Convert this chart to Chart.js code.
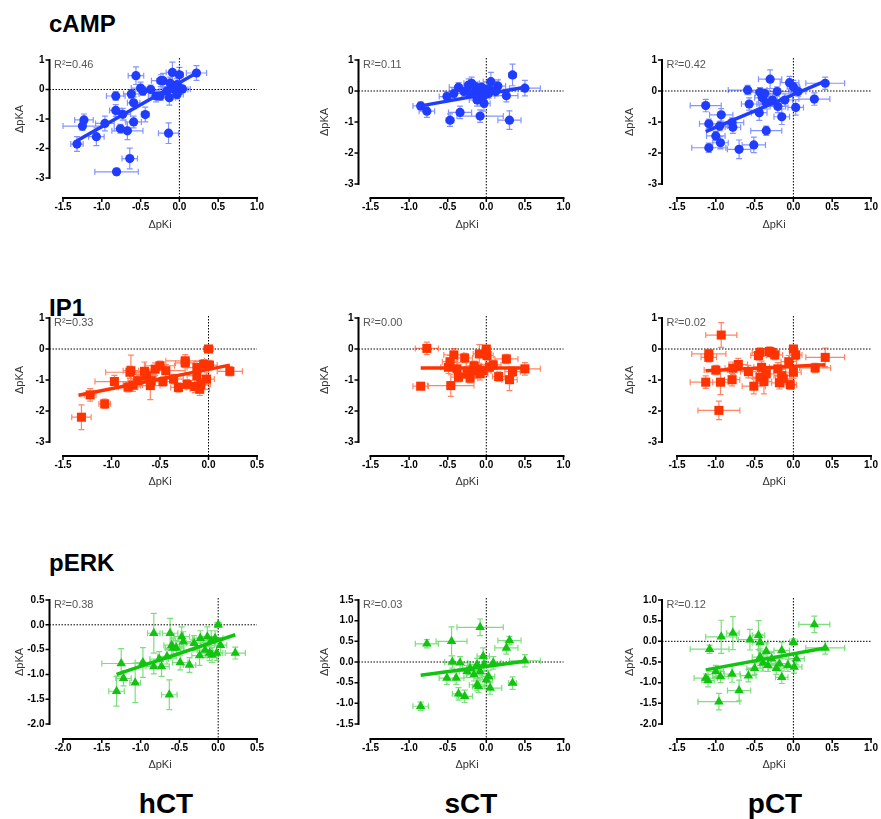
<!DOCTYPE html>
<html>
<head>
<meta charset="utf-8">
<script src="https://cdn.jsdelivr.net/npm/chart.js@4.4.0/dist/chart.umd.min.js"></script>
<style>
  body { margin: 0; background: #fff; width: 881px; height: 819px; position: relative; overflow: hidden;
         font-family: "Liberation Sans", Arial, sans-serif; }
  canvas { position: absolute; }
  .lab { position: absolute; font-weight: bold; color: #000; line-height: 1; white-space: nowrap; }
  .col { width: 200px; text-align: center; font-size: 28px; top: 790px; }
</style>
</head>
<body>
<div class="lab" style="left:49px;top:12px;font-size:24px">cAMP</div>
<div class="lab" style="left:49px;top:296px;font-size:24px">IP1</div>
<div class="lab" style="left:49px;top:551px;font-size:24px">pERK</div>
<div class="lab col" style="left:66px">hCT</div>
<div class="lab col" style="left:371px">sCT</div>
<div class="lab col" style="left:675px">pCT</div>

<script>
// each row: [ΔpKi, ΔpKA, ΔpKi error, ΔpKA error]
const campHct = [
  [-1.32,-1.85,0.08,0.25],[-1.23,-1.03,0.12,0.2],[-1.25,-1.24,0.25,0.15],[-1.07,-1.6,0.1,0.3],
  [-0.96,-1.15,0.12,0.25],[-0.82,-0.22,0.12,0.15],[-0.82,-0.71,0.08,0.2],[-0.76,-1.33,0.08,0.15],
  [-0.73,-0.84,0.1,0.2],[-0.81,-2.79,0.28,0.12],[-0.64,-2.34,0.1,0.35],[-0.67,-1.4,0.2,0.3],
  [-0.59,-1.1,0.1,0.2],[-0.56,0.47,0.1,0.3],[-0.62,-0.15,0.1,0.15],[-0.59,-0.45,0.08,0.2],
  [-0.5,0.05,0.12,0.2],[-0.47,-0.05,0.1,0.15],[-0.44,-0.85,0.05,0.25],[-0.37,0.0,0.15,0.15],
  [-0.3,-0.22,0.1,0.2],[-0.24,0.3,0.12,0.2],[-0.21,0.3,0.08,0.25],[-0.25,-0.22,0.1,0.15],
  [-0.16,-0.05,0.1,0.15],[-0.13,-0.28,0.08,0.25],[-0.09,0.58,0.08,0.35],[-0.12,0.22,0.1,0.2],
  [-0.08,0.05,0.08,0.15],[-0.06,0.0,0.1,0.12],[-0.03,0.17,0.06,0.2],[0.0,0.5,0.05,0.25],
  [0.01,0.0,0.1,0.1],[-0.03,-0.17,0.08,0.15],[-0.14,-1.48,0.13,0.35],[0.22,0.56,0.13,0.25],
  [0.04,0.02,0.1,0.1]
];
const campHctFit = [[-1.32,-1.74],[0.22,0.56]];

const campSct = [
  [-0.85,-0.48,0.1,0.12],[-0.77,-0.65,0.1,0.2],[-0.47,-0.94,0.05,0.2],[-0.34,-0.69,0.15,0.2],
  [-0.08,-0.81,0.3,0.2],[0.3,-0.94,0.15,0.3],[0.34,0.52,0.05,0.35],[0.5,0.09,0.2,0.25],
  [0.26,-0.15,0.15,0.2],[0.06,0.3,0.1,0.3],[0.15,0.16,0.1,0.2],[-0.03,-0.4,0.08,0.25],
  [-0.12,-0.29,0.1,0.2],[-0.23,0.19,0.15,0.2],[-0.19,0.25,0.1,0.2],[-0.14,0.14,0.1,0.15],
  [-0.1,0.03,0.1,0.15],[-0.06,0.12,0.08,0.15],[0.0,0.05,0.1,0.15],[0.03,-0.08,0.1,0.15],
  [-0.36,0.12,0.12,0.15],[-0.42,-0.08,0.12,0.15],[-0.51,-0.18,0.1,0.15],[-0.29,-0.02,0.1,0.15],
  [-0.21,-0.08,0.1,0.15],[-0.12,-0.05,0.1,0.15],[-0.04,-0.18,0.08,0.2],[0.05,0.03,0.1,0.15],
  [0.12,-0.02,0.1,0.15]
];
const campSctFit = [[-0.85,-0.48],[0.5,0.12]];

const campPct = [
  [-1.13,-0.47,0.2,0.2],[-1.09,-1.06,0.12,0.15],[-1.09,-1.83,0.22,0.15],[-1.0,-1.45,0.12,0.15],
  [-0.94,-1.67,0.1,0.2],[-0.93,-0.77,0.15,0.2],[-0.95,-1.13,0.1,0.15],[-0.79,-1.02,0.15,0.15],
  [-0.78,-1.17,0.1,0.2],[-0.7,-1.88,0.15,0.3],[-0.51,-1.74,0.15,0.25],[-0.59,0.03,0.25,0.15],
  [-0.57,-0.42,0.1,0.2],[-0.44,-0.7,0.1,0.25],[-0.43,-0.04,0.12,0.15],[-0.4,-0.22,0.1,0.2],
  [-0.37,-0.08,0.12,0.15],[-0.35,-0.38,0.1,0.2],[-0.3,0.38,0.15,0.3],[-0.35,-1.28,0.2,0.15],
  [-0.27,-0.29,0.1,0.2],[-0.21,-0.02,0.15,0.15],[-0.2,-0.5,0.1,0.2],[-0.15,-0.83,0.1,0.25],
  [-0.11,-0.29,0.1,0.2],[-0.05,0.27,0.12,0.2],[0.0,0.14,0.08,0.2],[0.03,-0.53,0.1,0.25],
  [0.06,-0.02,0.1,0.15],[0.27,-0.26,0.2,0.2],[0.41,0.25,0.25,0.2]
];
const campPctFit = [[-1.13,-1.31],[0.41,0.32]];

const ip1Hct = [
  [-1.31,-2.2,0.1,0.4],[-1.22,-1.48,0.06,0.2],[-1.07,-1.77,0.06,0.15],[-0.97,-1.05,0.2,0.2],
  [-0.83,-1.23,0.1,0.15],[-0.81,-0.75,0.25,0.2],[-0.8,-0.7,0.08,0.5],[-0.78,-1.17,0.1,0.2],
  [-0.73,-1.02,0.1,0.2],[-0.66,-0.72,0.12,0.3],[-0.64,-0.86,0.1,0.2],[-0.6,-1.18,0.1,0.45],
  [-0.59,-1.02,0.1,0.2],[-0.55,-0.65,0.1,0.2],[-0.5,-0.54,0.15,0.15],[-0.47,-1.05,0.1,0.15],
  [-0.44,-0.7,0.2,0.2],[-0.36,-0.97,0.1,0.15],[-0.31,-1.24,0.08,0.15],[-0.24,-0.38,0.2,0.2],
  [-0.24,-0.45,0.1,0.15],[-0.22,-1.14,0.1,0.15],[-0.14,-1.21,0.1,0.2],[-0.12,-0.6,0.1,0.2],
  [-0.09,-1.3,0.1,0.2],[-0.08,-1.14,0.1,0.2],[-0.05,-0.49,0.1,0.15],[-0.02,-0.97,0.08,0.2],
  [0.0,0.0,0.05,0.08],[0.01,-0.52,0.08,0.15],[0.22,-0.72,0.13,0.15],[-0.12,-0.86,0.1,0.2]
];
const ip1HctFit = [[-1.34,-1.49],[0.22,-0.52]];

const ip1Sct = [
  [-0.85,-1.2,0.1,0.08],[-0.77,0.02,0.15,0.2],[-0.46,-1.18,0.3,0.35],[-0.42,-0.19,0.13,0.2],
  [-0.47,-0.41,0.1,0.2],[-0.49,-0.59,0.1,0.2],[-0.38,-0.64,0.1,0.2],[-0.36,-0.91,0.1,0.15],
  [-0.28,-0.29,0.1,0.15],[-0.25,-0.8,0.1,0.15],[-0.21,-0.94,0.1,0.15],[-0.16,-0.54,0.1,0.15],
  [-0.12,-0.64,0.1,0.2],[-0.09,-0.16,0.08,0.3],[-0.08,-0.8,0.1,0.2],[-0.04,-0.7,0.1,0.2],
  [0.0,0.0,0.05,0.1],[0.01,-0.21,0.08,0.15],[0.04,-0.59,0.1,0.15],[0.09,-0.51,0.1,0.15],
  [0.16,-0.89,0.08,0.15],[0.26,-0.32,0.15,0.15],[0.3,-0.99,0.1,0.35],[0.34,-0.73,0.1,0.15],
  [0.5,-0.64,0.2,0.2],[-0.14,-0.7,0.1,0.2]
];
const ip1SctFit = [[-0.85,-0.61],[0.5,-0.61]];

const ip1Pct = [
  [-0.93,0.45,0.2,0.4],[-1.09,-0.16,0.22,0.15],[-1.09,-0.27,0.1,0.15],[-1.13,-1.07,0.2,0.2],
  [-1.0,-0.68,0.15,0.15],[-0.94,-1.07,0.1,0.4],[-0.96,-1.98,0.27,0.3],[-0.79,-0.99,0.1,0.2],
  [-0.78,-0.62,0.1,0.2],[-0.71,-0.5,0.12,0.2],[-0.58,-0.73,0.1,0.2],[-0.51,-1.2,0.15,0.25],
  [-0.45,-0.21,0.1,0.15],[-0.43,-0.11,0.1,0.15],[-0.43,-0.91,0.1,0.2],[-0.41,-0.59,0.1,0.2],
  [-0.38,-1.05,0.1,0.4],[-0.35,-0.8,0.1,0.2],[-0.31,-0.08,0.1,0.15],[-0.28,-0.11,0.1,0.15],
  [-0.24,-0.19,0.1,0.15],[-0.2,-0.64,0.1,0.2],[-0.18,-1.09,0.1,0.2],[-0.15,-0.86,0.1,0.2],
  [-0.13,-0.96,0.1,0.2],[-0.06,-0.41,0.1,0.2],[-0.04,-1.15,0.08,0.15],[0.0,0.0,0.05,0.1],
  [0.0,-0.75,0.1,0.2],[0.03,-0.19,0.08,0.15],[0.28,-0.61,0.2,0.15],[0.41,-0.27,0.25,0.3]
];
const ip1PctFit = [[-1.13,-0.7],[0.41,-0.51]];

const perkHct = [
  [-1.31,-1.34,0.1,0.3],[-1.25,-0.78,0.25,0.3],[-1.22,-1.08,0.1,0.15],[-1.07,-1.17,0.07,0.4],
  [-0.97,-0.76,0.1,0.3],[-0.83,-0.84,0.1,0.15],[-0.83,-0.17,0.08,0.4],[-0.76,-0.69,0.12,0.15],
  [-0.73,-0.84,0.1,0.2],[-0.66,-0.64,0.12,0.15],[-0.63,-1.41,0.1,0.3],[-0.62,-0.17,0.1,0.3],
  [-0.6,-0.41,0.1,0.2],[-0.58,-0.47,0.1,0.2],[-0.54,-0.47,0.1,0.15],[-0.49,-0.76,0.1,0.15],
  [-0.47,-0.24,0.1,0.2],[-0.45,-0.34,0.1,0.2],[-0.37,-0.81,0.08,0.15],[-0.31,-0.37,0.1,0.15],
  [-0.24,-0.62,0.1,0.2],[-0.23,-0.27,0.1,0.15],[-0.17,-0.51,0.1,0.15],[-0.14,-0.24,0.1,0.2],
  [-0.11,-0.57,0.1,0.15],[-0.09,-0.32,0.1,0.2],[-0.08,-0.61,0.08,0.15],[-0.04,-0.27,0.1,0.15],
  [-0.02,-0.57,0.08,0.15],[0.0,0.0,0.04,0.05],[0.03,-0.41,0.08,0.15],[0.22,-0.57,0.13,0.12]
];
const perkHctFit = [[-1.31,-1.0],[0.22,-0.2]];

const perkSct = [
  [-0.85,-1.07,0.1,0.1],[-0.77,0.44,0.15,0.1],[-0.45,0.5,0.2,0.35],[-0.08,0.84,0.3,0.2],
  [0.3,0.52,0.15,0.1],[0.26,0.34,0.15,0.15],[0.34,-0.51,0.05,0.15],[0.5,0.03,0.2,0.15],
  [-0.36,-0.77,0.08,0.15],[-0.28,-0.83,0.1,0.15],[-0.51,-0.39,0.1,0.15],[-0.39,-0.39,0.1,0.15],
  [-0.44,0.0,0.1,0.15],[-0.34,-0.02,0.1,0.15],[-0.21,-0.15,0.1,0.15],[-0.16,-0.31,0.1,0.15],
  [-0.12,-0.55,0.1,0.15],[-0.1,-0.59,0.08,0.15],[-0.08,-0.23,0.1,0.15],[-0.04,0.14,0.08,0.2],
  [-0.03,-0.06,0.1,0.15],[0.0,-0.43,0.08,0.15],[0.03,-0.35,0.08,0.15],[0.05,-0.63,0.15,0.15],
  [0.09,-0.02,0.1,0.15],[-0.12,-0.06,0.1,0.15],[-0.25,-0.23,0.1,0.15]
];
const perkSctFit = [[-0.85,-0.32],[0.5,0.02]];

const perkPct = [
  [-1.13,-0.89,0.15,0.1],[-1.1,-0.95,0.08,0.15],[-1.08,-0.19,0.25,0.1],[-1.0,-0.73,0.1,0.15],
  [-0.93,0.11,0.2,0.4],[-0.94,-0.85,0.1,0.15],[-0.96,-1.46,0.27,0.2],[-0.79,-0.79,0.1,0.2],
  [-0.78,0.2,0.08,0.4],[-0.7,-1.19,0.15,0.25],[-0.58,-0.83,0.1,0.15],[-0.56,0.04,0.15,0.25],
  [-0.45,0.15,0.08,0.35],[-0.43,-0.03,0.1,0.2],[-0.43,-0.38,0.1,0.2],[-0.5,-0.65,0.1,0.15],
  [-0.39,-0.52,0.1,0.2],[-0.35,-0.24,0.1,0.2],[-0.33,-0.58,0.1,0.15],[-0.28,-0.42,0.1,0.15],
  [-0.22,-0.65,0.1,0.15],[-0.18,-0.54,0.1,0.15],[-0.15,-0.22,0.1,0.2],[-0.15,-0.87,0.08,0.15],
  [-0.07,-0.58,0.1,0.15],[0.0,-0.02,0.05,0.08],[0.01,-0.62,0.1,0.15],[0.04,-0.42,0.1,0.15],
  [0.27,0.41,0.2,0.2],[0.41,-0.16,0.25,0.15]
];
const perkPctFit = [[-1.13,-0.69],[0.41,-0.16]];

// axis ticks
const xTicksWide = [-1.5, -1.0, -0.5, 0.0, 0.5, 1.0];
const xTicksIp1Hct = [-1.5, -1.0, -0.5, 0.0, 0.5];
const xTicksPerkHct = [-2.0, -1.5, -1.0, -0.5, 0.0, 0.5];
const yTicksWide = [-3, -2, -1, 0, 1];
const yTicksPerkHct = [-2.0, -1.5, -1.0, -0.5, 0.0, 0.5];
const yTicksPerkSct = [-1.5, -1.0, -0.5, 0.0, 0.5, 1.0, 1.5];
const yTicksPerkPct = [-2.0, -1.5, -1.0, -0.5, 0.0, 0.5, 1.0];

const rSquared = ['0.46', '0.11', '0.42', '0.33', '0.00', '0.02', '0.38', '0.03', '0.12'];

const FONT = '"Liberation Sans", Arial, sans-serif';
const TITLE_SIZE = 11;
const HALF_LINE = TITLE_SIZE * 1.2 / 2;

const looks = {
  camp: { color: '#1f3cff', err: 'rgba(31,60,255,0.55)', point: 'circle', radius: 4.6 },
  ip1:  { color: '#ff3300', err: 'rgba(255,51,0,0.6)', point: 'rect', radius: 6.4 },
  perk: { color: '#10c410', err: 'rgba(16,196,16,0.55)', point: 'triangle', radius: 5.5 }
};

// page boxes for the grid of plots
const cols = [
  { cx: 0,   cw: 300, left: 63,    right: 257,   yline: 49.5,  titleX: 20 },
  { cx: 300, cw: 300, left: 370.5, right: 563.5, yline: 358.5, titleX: 325 },
  { cx: 600, cw: 281, left: 677,   right: 871,   yline: 662,   titleX: 630 }
];
const rows = [
  { cy: 40,  ch: 200, top: 60,  bottom: 184, xline: 198, titleY: 225 },
  { cy: 300, ch: 200, top: 318, bottom: 442, xline: 456, titleY: 482 },
  { cy: 580, ch: 200, top: 600, bottom: 724, xline: 739, titleY: 765 }
];

const panels = [
  { row: 0, col: 0, pts: campHct, fit: campHctFit, xt: xTicksWide,    yt: yTicksWide, look: 'camp', bottom: 178 },
  { row: 0, col: 1, pts: campSct, fit: campSctFit, xt: xTicksWide,    yt: yTicksWide, look: 'camp' },
  { row: 0, col: 2, pts: campPct, fit: campPctFit, xt: xTicksWide,    yt: yTicksWide, look: 'camp' },
  { row: 1, col: 0, pts: ip1Hct,  fit: ip1HctFit,  xt: xTicksIp1Hct,  yt: yTicksWide, look: 'ip1' },
  { row: 1, col: 1, pts: ip1Sct,  fit: ip1SctFit,  xt: xTicksWide,    yt: yTicksWide, look: 'ip1' },
  { row: 1, col: 2, pts: ip1Pct,  fit: ip1PctFit,  xt: xTicksWide,    yt: yTicksWide, look: 'ip1' },
  { row: 2, col: 0, pts: perkHct, fit: perkHctFit, xt: xTicksPerkHct, yt: yTicksPerkHct, look: 'perk' },
  { row: 2, col: 1, pts: perkSct, fit: perkSctFit, xt: xTicksWide,    yt: yTicksPerkSct, look: 'perk' },
  { row: 2, col: 2, pts: perkPct, fit: perkPctFit, xt: xTicksWide,    yt: yTicksPerkPct, look: 'perk' }
];

// axes, zero lines and error bars drawn around the library's scales
const framePlugin = {
  id: 'frame',
  beforeDatasetsDraw(chart, args, opts) {
    const { ctx, chartArea: a, scales: { x, y } } = chart;
    const yLineX = a.left - opts.gapL;
    const xLineY = a.bottom + opts.gapB;
    ctx.save();

    // dotted zero lines
    ctx.strokeStyle = '#000';
    ctx.lineWidth = 1;
    ctx.setLineDash([1.5, 1.5]);
    const x0 = x.getPixelForValue(0), y0 = y.getPixelForValue(0);
    ctx.beginPath();
    ctx.moveTo(yLineX, y0); ctx.lineTo(a.right, y0);
    ctx.moveTo(x0, a.top - 2); ctx.lineTo(x0, xLineY);
    ctx.stroke();
    ctx.setLineDash([]);

    // axis lines with outward ticks
    ctx.lineWidth = 2;
    ctx.beginPath();
    ctx.moveTo(yLineX, y.getPixelForValue(y.max) - 1);
    ctx.lineTo(yLineX, y.getPixelForValue(y.min) + 1);
    ctx.moveTo(a.left - 1, xLineY);
    ctx.lineTo(a.right + 1, xLineY);
    ctx.stroke();
    ctx.lineWidth = 1.5;
    ctx.beginPath();
    y.ticks.forEach(t => {
      const py = y.getPixelForValue(t.value);
      ctx.moveTo(yLineX - 4, py); ctx.lineTo(yLineX, py);
    });
    x.ticks.forEach(t => {
      const px = x.getPixelForValue(t.value);
      ctx.moveTo(px, xLineY); ctx.lineTo(px, xLineY + 4);
    });
    ctx.stroke();

    // error bars with caps
    const ds = chart.data.datasets[1];
    ctx.strokeStyle = opts.errColor;
    ctx.lineWidth = 1.2;
    ctx.beginPath();
    ds.data.forEach(d => {
      const px = x.getPixelForValue(d.x), py = y.getPixelForValue(d.y);
      const xl = x.getPixelForValue(d.x - d.xe), xr = x.getPixelForValue(d.x + d.xe);
      const yt = y.getPixelForValue(d.y + d.ye), yb = y.getPixelForValue(d.y - d.ye);
      ctx.moveTo(xl, py); ctx.lineTo(xr, py);
      ctx.moveTo(xl, py - 3); ctx.lineTo(xl, py + 3);
      ctx.moveTo(xr, py - 3); ctx.lineTo(xr, py + 3);
      ctx.moveTo(px, yt); ctx.lineTo(px, yb);
      ctx.moveTo(px - 3, yt); ctx.lineTo(px + 3, yt);
      ctx.moveTo(px - 3, yb); ctx.lineTo(px + 3, yb);
    });
    ctx.stroke();
    ctx.restore();
  },
  afterDraw(chart, args, opts) {
    const { ctx, chartArea: a } = chart;
    ctx.save();
    ctx.font = '11px ' + FONT;
    ctx.fillStyle = '#555';
    ctx.textBaseline = 'alphabetic';
    ctx.fillText('R\u00B2=' + opts.r2, a.left - opts.gapL + 4.5, a.top + 7.5);
    ctx.restore();
  }
};

panels.forEach((p, i) => {
  const c = cols[p.col], r = rows[p.row];
  const look = looks[p.look];
  const bottom = p.bottom !== undefined ? p.bottom : r.bottom;
  const yWidth = c.left - c.titleX + HALF_LINE;
  const xHeight = r.titleY - bottom + HALF_LINE;
  const yDec = p.yt.some(v => v % 1 !== 0) ? 1 : 0;

  const canvas = document.createElement('canvas');
  canvas.width = c.cw;
  canvas.height = r.ch;
  canvas.style.left = c.cx + 'px';
  canvas.style.top = r.cy + 'px';
  document.body.appendChild(canvas);

  const tickFont = { family: FONT, size: 10, weight: 'bold' };
  const titleFont = { family: FONT, size: TITLE_SIZE };

  new Chart(canvas.getContext('2d'), {
    type: 'scatter',
    data: {
      datasets: [
        {
          type: 'line',
          data: p.fit.map(d => ({ x: d[0], y: d[1] })),
          borderColor: look.color,
          borderWidth: 3.5,
          pointRadius: 0,
          fill: false,
          clip: false
        },
        {
          type: 'scatter',
          data: p.pts.map(d => ({ x: d[0], y: d[1], xe: d[2], ye: d[3] })),
          pointStyle: look.point,
          pointRadius: look.radius,
          backgroundColor: look.color,
          borderColor: look.color,
          pointBorderWidth: 0,
          clip: false
        }
      ]
    },
    options: {
      responsive: false,
      animation: false,
      events: [],
      layout: {
        padding: {
          left: c.titleX - HALF_LINE - c.cx,
          top: r.top - r.cy,
          right: c.cx + c.cw - c.right,
          bottom: r.cy + r.ch - (bottom + xHeight)
        }
      },
      plugins: {
        legend: { display: false },
        tooltip: { enabled: false },
        frame: {
          gapL: c.left - c.yline,
          gapB: r.xline - bottom,
          errColor: look.err,
          r2: rSquared[i]
        }
      },
      scales: {
        x: {
          type: 'linear',
          min: p.xt[0],
          max: p.xt[p.xt.length - 1],
          afterBuildTicks: s => { s.ticks = p.xt.map(v => ({ value: v })); },
          afterFit: s => { s.height = xHeight; s.paddingLeft = 0; s.paddingRight = 0; },
          grid: { display: false, drawTicks: false },
          border: { display: false },
          ticks: {
            autoSkip: false, maxRotation: 0,
            padding: r.xline + 3 - bottom,
            color: '#000', font: tickFont,
            callback: v => v.toFixed(1)
          },
          title: { display: true, text: 'ΔpKi', color: '#333', font: titleFont, padding: 0 }
        },
        y: {
          type: 'linear',
          min: p.yt[0],
          max: p.yt[p.yt.length - 1],
          afterBuildTicks: s => { s.ticks = p.yt.map(v => ({ value: v })); },
          afterFit: s => { s.width = yWidth; s.paddingTop = 0; s.paddingBottom = 0; },
          grid: { display: false, drawTicks: false },
          border: { display: false },
          ticks: {
            autoSkip: false,
            padding: c.left - c.yline + 5,
            color: '#000', font: tickFont,
            callback: v => v.toFixed(yDec)
          },
          title: { display: true, text: 'ΔpKA', color: '#333', font: titleFont, padding: 0 }
        }
      }
    },
    plugins: [framePlugin]
  });
});
</script>
</body>
</html>
